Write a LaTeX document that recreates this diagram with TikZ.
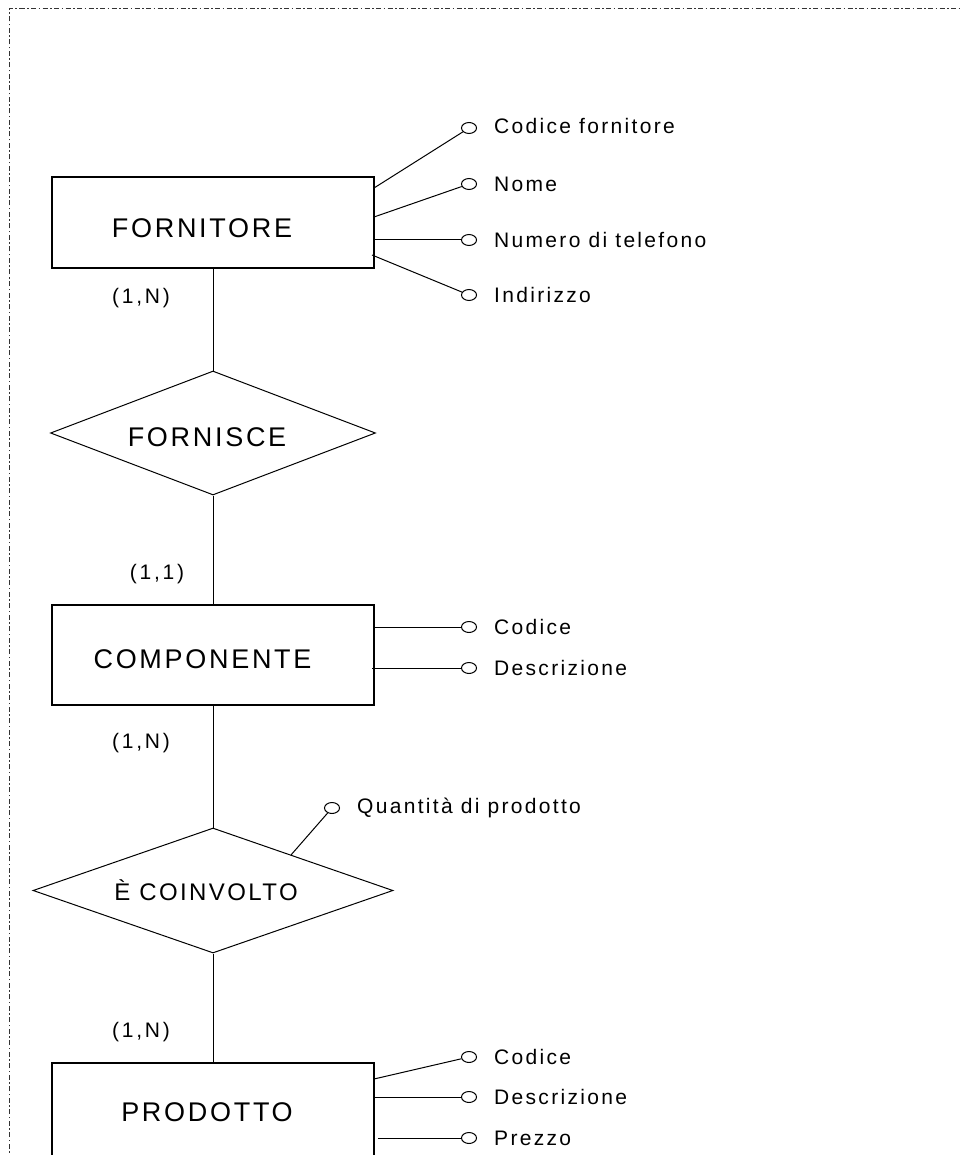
\documentclass[tikz,border=0pt]{standalone}
\usepackage{fontspec}
\setmainfont{Liberation Sans}
\newfontfamily\titlefont[LetterSpace=10]{Liberation Sans}
\newfontfamily\attrfont[LetterSpace=11]{Liberation Sans}
\newfontfamily\cardfont[LetterSpace=13]{Liberation Sans}
\usetikzlibrary{shapes.geometric,calc}
\tikzset{
  ent/.style={draw, line width=1.1pt, rectangle, inner sep=0pt, minimum width=322pt},
  rel/.style={draw, line width=1pt, diamond, inner sep=0pt},
  title/.style={anchor=base, inner sep=0pt, font=\titlefont\fontsize{27}{30}\selectfont},
  subtitle/.style={anchor=base, inner sep=0pt, font=\titlefont\fontsize{24}{28}\selectfont},
  attr/.style={draw, line width=1pt, ellipse, inner sep=0pt, minimum width=15pt, minimum height=11pt},
  attrtext/.style={anchor=base west, inner sep=0pt, font=\attrfont\fontsize{21}{24}\selectfont},
  card/.style={anchor=base, inner sep=0pt, font=\cardfont\fontsize{21}{24}\selectfont},
  link/.style={line width=1pt},
  frame/.style={line width=1pt, black!80, dash pattern=on 5pt off 2.5pt on 1.5pt off 2.5pt}
}
\begin{document}
\begin{tikzpicture}[x=1pt, y=-1pt]
\useasboundingbox (0,0) rectangle (960,1155);
\clip (0,0) rectangle (960,1155);

% outer frame
\draw[frame] (9,1160) -- (9,9) -- (965,9);

% entities
\node[ent, minimum height=91pt] (forn) at (213,222.5) {};
\node[ent, minimum height=100pt] (comp) at (213,655) {};
\node[ent, minimum height=96pt] (prod) at (213,1111) {};
\node[title] (tforn) at (202,237.5) {FORNITORE};
\node[title] (tcomp) at (202.5,668) {COMPONENTE};
\node[title] (tprod) at (207,1121) {PRODOTTO};

% relationships
\node[rel, aspect=2.62, minimum width=325pt, minimum height=124pt] (forni) at (213,433) {};
\node[rel, aspect=2.88, minimum width=360pt, minimum height=125pt] (invol) at (213,890.5) {};
\node[title] (tforni) at (207,446) {FORNISCE};
\node[subtitle] (tinvol) at (206,900) {È COINVOLTO};

% relationship links
\draw[link] (forn.south) -- (forni.north);
\draw[link] (forni.south) -- (comp.north);
\draw[link] (comp.south) -- (invol.north);
\draw[link] (invol.south) -- (prod.north);

% cardinalities
\node[card] (c1) at (141,303) {(1,N)};
\node[card] (c2) at (157,579) {(1,1)};
\node[card] (c3) at (141,748) {(1,N)};
\node[card] (c4) at (141,1037) {(1,N)};

% attributes of FORNITORE
\node[attr] (f1) at (469,128) {};
\node[attr] (f2) at (469,184) {};
\node[attr] (f3) at (469,240) {};
\node[attr] (f4) at (469,295) {};
\draw[link] (374,188) -- (f1);
\draw[link] (374,217) -- (f2);
\draw[link] (374,240) -- (f3);
\draw[link] (372,255) -- (f4);
\node[attrtext] (tf1) at (494,133.5) {Codice fornitore};
\node[attrtext] (tf2) at (494,191.5) {Nome};
\node[attrtext] (tf3) at (494,247.5) {Numero di telefono};
\node[attrtext] (tf4) at (494,302.5) {Indirizzo};

% attributes of COMPONENTE
\node[attr] (k1) at (469,627) {};
\node[attr] (k2) at (469,668) {};
\draw[link] (374,627) -- (k1);
\draw[link] (372,668) -- (k2);
\node[attrtext] (tk1) at (494,634) {Codice};
\node[attrtext] (tk2) at (494,675.5) {Descrizione};

% attribute of the relationship
\node[attr] (q1) at (332,808) {};
\coordinate (qa) at ($(invol.north)!0.433!(invol.east)$);
\draw[link] (qa) -- (q1);
\node[attrtext] (tq1) at (357,813) {Quantità di prodotto};

% attributes of PRODOTTO
\node[attr] (p1) at (469,1057) {};
\node[attr] (p2) at (469,1097) {};
\node[attr] (p3) at (469,1138) {};
\draw[link] (374,1079) -- (p1);
\draw[link] (374,1097) -- (p2);
\draw[link] (378,1138) -- (p3);
\node[attrtext] (tp1) at (494,1064) {Codice};
\node[attrtext] (tp2) at (494,1104) {Descrizione};
\node[attrtext] (tp3) at (494,1145) {Prezzo};
\end{tikzpicture}
\end{document}
